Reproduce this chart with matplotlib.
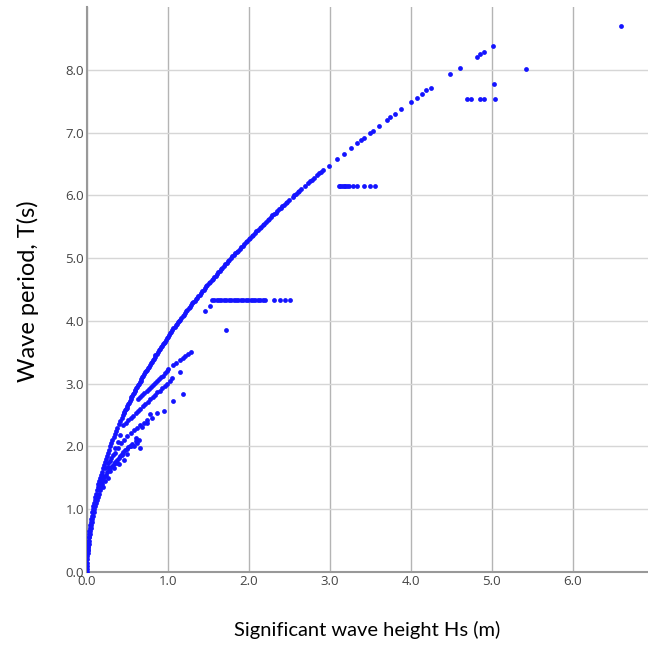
import matplotlib
matplotlib.use("Agg")
import matplotlib.pyplot as plt

# ---------------- data ----------------
# main curve (dense part)
main_T = [0.00, 0.05, 0.10, 0.15, 0.20, 0.25, 0.30, 0.35, 0.40, 0.45, 0.50, 0.55, 0.60, 0.65,
          0.70, 0.75, 0.80, 0.85, 0.90, 0.95, 1.00, 1.05, 1.10, 1.15, 1.20, 1.25, 1.30, 1.35,
          1.40, 1.45, 1.50, 1.55, 1.60, 1.65, 1.70, 1.75, 1.80, 1.85, 1.90, 1.95, 2.00, 2.05,
          2.10, 2.15, 2.20, 2.25, 2.30, 2.35, 2.40, 2.45, 2.50, 2.55, 2.60, 2.65, 2.70, 2.75,
          2.80, 2.85, 2.90, 2.95, 3.00, 3.05, 3.10, 3.15, 3.20, 3.25, 3.30, 3.35, 3.40, 3.45,
          3.50, 3.55, 3.60, 3.65, 3.70, 3.75, 3.80, 3.85, 3.90, 3.95, 4.00, 4.05, 4.10, 4.15,
          4.20, 4.25, 4.30, 4.35, 4.40, 4.45, 4.50, 4.55, 4.60, 4.65, 4.70, 4.75, 4.80, 4.85,
          4.90, 4.95, 5.00, 5.05, 5.10, 5.15, 5.20, 5.25, 5.30, 5.35, 5.40, 5.45, 5.50, 5.55,
          5.60, 5.65, 5.70, 5.75, 5.80, 5.85, 5.90, 6.00, 6.05, 6.10, 6.20, 6.25, 6.35, 6.40]
main_H = [0.000, 0.000, 0.001, 0.002, 0.003, 0.004, 0.006, 0.009, 0.011, 0.014, 0.018, 0.022, 0.026, 0.030,
          0.035, 0.040, 0.046, 0.051, 0.058, 0.064, 0.071, 0.078, 0.086, 0.094, 0.102, 0.111, 0.120, 0.130,
          0.139, 0.150, 0.160, 0.171, 0.182, 0.194, 0.206, 0.218, 0.230, 0.243, 0.257, 0.270, 0.284, 0.299,
          0.314, 0.329, 0.344, 0.360, 0.376, 0.393, 0.410, 0.427, 0.444, 0.462, 0.481, 0.499, 0.518, 0.538,
          0.558, 0.578, 0.598, 0.619, 0.640, 0.662, 0.683, 0.706, 0.728, 0.751, 0.774, 0.798, 0.822, 0.846,
          0.871, 0.896, 0.922, 0.947, 0.974, 1.000, 1.027, 1.054, 1.082, 1.110, 1.138, 1.166, 1.195, 1.225,
          1.254, 1.284, 1.315, 1.346, 1.377, 1.408, 1.440, 1.472, 1.505, 1.538, 1.571, 1.604, 1.638, 1.673,
          1.707, 1.742, 1.778, 1.814, 1.850, 1.886, 1.923, 1.960, 1.998, 2.035, 2.074, 2.112, 2.151, 2.190,
          2.230, 2.270, 2.310, 2.351, 2.392, 2.434, 2.475, 2.560, 2.603, 2.646, 2.734, 2.778, 2.867, 2.913]

# main curve, intermediate points that fill the dense stretch
fill_H = [0.455, 0.472, 0.490, 0.509, 0.528, 0.548, 0.568, 0.588, 0.609, 0.630, 0.651, 0.672, 0.694,
          0.717, 0.739, 0.762, 0.786, 0.810, 0.834, 0.859, 0.884, 0.909, 0.935, 0.960, 0.987, 1.013,
          1.040, 1.068, 1.096, 1.124, 1.152, 1.180, 1.210, 1.240, 1.269, 1.300, 1.330, 1.361, 1.392,
          1.424, 1.456, 1.488, 1.521, 1.554, 1.588, 1.621, 1.655, 1.690, 1.725, 1.760, 1.796, 1.832,
          1.868, 1.904, 1.941, 1.979, 2.016, 2.054, 2.093, 2.132, 2.171, 2.210, 2.250, 2.290, 2.331,
          2.372, 2.413, 2.455, 2.496, 2.539, 2.581, 2.624, 2.690, 2.756, 2.800, 2.845, 2.890]
fill_T = [2.53, 2.58, 2.62, 2.68, 2.72, 2.78, 2.83, 2.88, 2.93, 2.98, 3.03, 3.08, 3.12,
          3.18, 3.22, 3.27, 3.33, 3.38, 3.42, 3.48, 3.53, 3.58, 3.63, 3.67, 3.73, 3.77,
          3.82, 3.88, 3.93, 3.98, 4.02, 4.07, 4.12, 4.18, 4.22, 4.28, 4.32, 4.37, 4.42,
          4.48, 4.53, 4.57, 4.62, 4.67, 4.72, 4.78, 4.82, 4.88, 4.93, 4.97, 5.03, 5.08,
          5.12, 5.17, 5.22, 5.28, 5.32, 5.37, 5.43, 5.48, 5.53, 5.57, 5.62, 5.68, 5.72,
          5.78, 5.83, 5.88, 5.92, 5.98, 6.02, 6.07, 6.15, 6.23, 6.28, 6.33, 6.37]

# main curve (sparse upper part)
upper_H = [2.99, 3.09, 3.17, 3.26, 3.34, 3.39, 3.42, 3.50, 3.53, 3.61, 3.70, 3.74, 3.81, 3.88,
           4.00, 4.08, 4.14, 4.19, 4.25, 4.49, 4.61, 4.82, 4.86, 4.90, 5.02]
upper_T = [6.47, 6.58, 6.66, 6.76, 6.83, 6.88, 6.92, 7.00, 7.03, 7.11, 7.20, 7.24, 7.29, 7.37,
           7.48, 7.55, 7.62, 7.67, 7.71, 7.93, 8.03, 8.21, 8.25, 8.28, 8.38]

# thick lower edge near the origin
low_H = [0.008, 0.011, 0.015, 0.019, 0.023, 0.028, 0.033, 0.039, 0.045, 0.052, 0.059, 0.066,
         0.074, 0.083, 0.092, 0.101, 0.111, 0.121, 0.132, 0.143, 0.155, 0.167, 0.180]
low_T = [0.30, 0.35, 0.40, 0.45, 0.50, 0.55, 0.60, 0.65, 0.70, 0.75, 0.80, 0.85,
         0.90, 0.95, 1.00, 1.05, 1.10, 1.15, 1.20, 1.25, 1.30, 1.35, 1.40]

# upper secondary branch
b1_H = [0.635, 0.66, 0.685, 0.71, 0.735, 0.76, 0.785, 0.81, 0.835, 0.86, 0.885, 0.91, 0.935, 0.96,
        0.985, 1.006, 1.06, 1.10, 1.15, 1.18, 1.21, 1.25, 1.29]
b1_T = [2.76, 2.79, 2.82, 2.85, 2.88, 2.91, 2.95, 2.98, 3.01, 3.04, 3.07, 3.10, 3.13, 3.17,
        3.20, 3.23, 3.30, 3.33, 3.37, 3.41, 3.44, 3.47, 3.50]

# lower secondary branch
b2_H = [0.26, 0.29, 0.32, 0.35, 0.38, 0.41, 0.45, 0.48, 0.51, 0.54, 0.57, 0.60, 0.63, 0.66, 0.69,
        0.72, 0.75, 0.78, 0.81, 0.84, 0.87, 0.90, 0.93, 0.96, 0.99, 1.02, 1.056]
b2_T = [1.67, 1.77, 1.87, 1.97, 2.07, 2.18, 2.34, 2.38, 2.42, 2.46, 2.49, 2.53, 2.57, 2.60, 2.64,
        2.68, 2.71, 2.75, 2.79, 2.82, 2.86, 2.89, 2.93, 2.97, 3.00, 3.04, 3.09]

# fan of lower branches
d1_H = [0.18, 0.22, 0.26, 0.30, 0.34, 0.38, 0.42, 0.46, 0.50, 0.54, 0.58, 0.62, 0.66, 0.70, 0.74,
        0.80, 0.86, 0.95]
d1_T = [1.55, 1.65, 1.74, 1.82, 1.90, 1.97, 2.05, 2.10, 2.16, 2.21, 2.26, 2.30, 2.34, 2.38, 2.42,
        2.46, 2.54, 2.56]
d2_H = [0.15, 0.17, 0.19, 0.21, 0.23, 0.25, 0.27, 0.29, 0.31, 0.33, 0.35, 0.37, 0.39, 0.41, 0.43,
        0.45, 0.47, 0.49, 0.51, 0.53, 0.55]
d2_T = [1.38, 1.43, 1.47, 1.51, 1.55, 1.59, 1.62, 1.66, 1.69, 1.72, 1.76, 1.79, 1.82, 1.85, 1.88,
        1.91, 1.94, 1.96, 1.99, 2.01, 2.04]
scat_H = [0.60, 0.64, 0.65, 0.58, 0.54, 0.50, 0.46, 0.43, 0.40, 0.37, 0.33, 0.29, 0.26, 0.22, 0.20,
          0.62, 0.60, 0.68, 0.74, 0.78]
scat_T = [2.08, 2.11, 1.98, 2.00, 2.01, 1.88, 1.78, 1.87, 1.72, 1.74, 1.66, 1.61, 1.50, 1.45, 1.36,
          2.05, 2.14, 2.31, 2.38, 2.52]

# horizontal bands
band1_H = [1.54, 1.57, 1.60, 1.63, 1.66, 1.69, 1.72, 1.75, 1.78, 1.81, 1.84, 1.87, 1.90, 1.93,
           1.96, 1.99, 2.02, 2.05, 2.08, 2.11, 2.14, 2.17, 2.20, 2.31, 2.39, 2.45, 2.51]
band1_T = [4.34] * 27
band2_H = [3.11, 3.13, 3.15, 3.17, 3.19, 3.21, 3.24, 3.28, 3.33, 3.42, 3.50, 3.56]
band2_T = [6.15] * 12
band3_H = [4.69, 4.74, 4.85, 4.90, 5.04]
band3_T = [7.53] * 5

# isolated points
iso_H = [1.46, 1.52, 1.72, 5.42, 5.03, 6.60, 1.15, 1.18, 1.06]
iso_T = [4.16, 4.23, 3.86, 8.01, 7.77, 8.70, 3.19, 2.83, 2.72]

x_ticks = [0, 1, 2, 3, 4, 5, 6]
y_ticks = [0, 1, 2, 3, 4, 5, 6, 7, 8]
x_label = "Significant wave height Hs (m)"
y_label = "Wave period, T(s)"

# ---------------- plot ----------------
fig = plt.figure(figsize=(6.48, 6.45), dpi=100)
ax = fig.add_axes([87 / 648, 1 - 572 / 645, 1 - 87 / 648, (572 - 7) / 645])

color = "#1414ff"
groups = [(main_H, main_T), (fill_H, fill_T), (upper_H, upper_T), (low_H, low_T), (b1_H, b1_T),
          (b2_H, b2_T), (d1_H, d1_T), (d2_H, d2_T), (scat_H, scat_T), (band1_H, band1_T),
          (band2_H, band2_T), (band3_H, band3_T), (iso_H, iso_T)]
for hx, ty in groups:
    ax.scatter(hx, ty, s=12, color=color, linewidths=0, zorder=3)

ax.set_xlim(0, 6.93)
ax.set_ylim(0, 9.0)
ax.set_xticks(x_ticks)
ax.set_yticks(y_ticks)
ax.set_xticklabels([f"{v:.1f}" for v in x_ticks])
ax.set_yticklabels([f"{v:.1f}" for v in y_ticks])
ax.tick_params(length=0, labelsize=9.5, colors="#444444", pad=2)
for lab in ax.get_xticklabels() + ax.get_yticklabels():
    lab.set_family("Open Sans")

ax.xaxis.grid(True, color="#b4b4b4", lw=1.0)
ax.yaxis.grid(True, color="#d6d6d6", lw=1.0)
ax.set_axisbelow(True)
for side in ["top", "right"]:
    ax.spines[side].set_visible(False)
for side in ["left", "bottom"]:
    ax.spines[side].set_color("#999999")
    ax.spines[side].set_linewidth(1.5)

fig.text(0.043, 1 - 291 / 645, y_label, rotation=90, ha="center", va="center",
         fontsize=17, family="Lato", color="black")
fig.text(367 / 648, 1 - 630 / 645, x_label, ha="center", va="center",
         fontsize=14.5, family="Lato", color="black")

fig.savefig("out.png", dpi=100)
